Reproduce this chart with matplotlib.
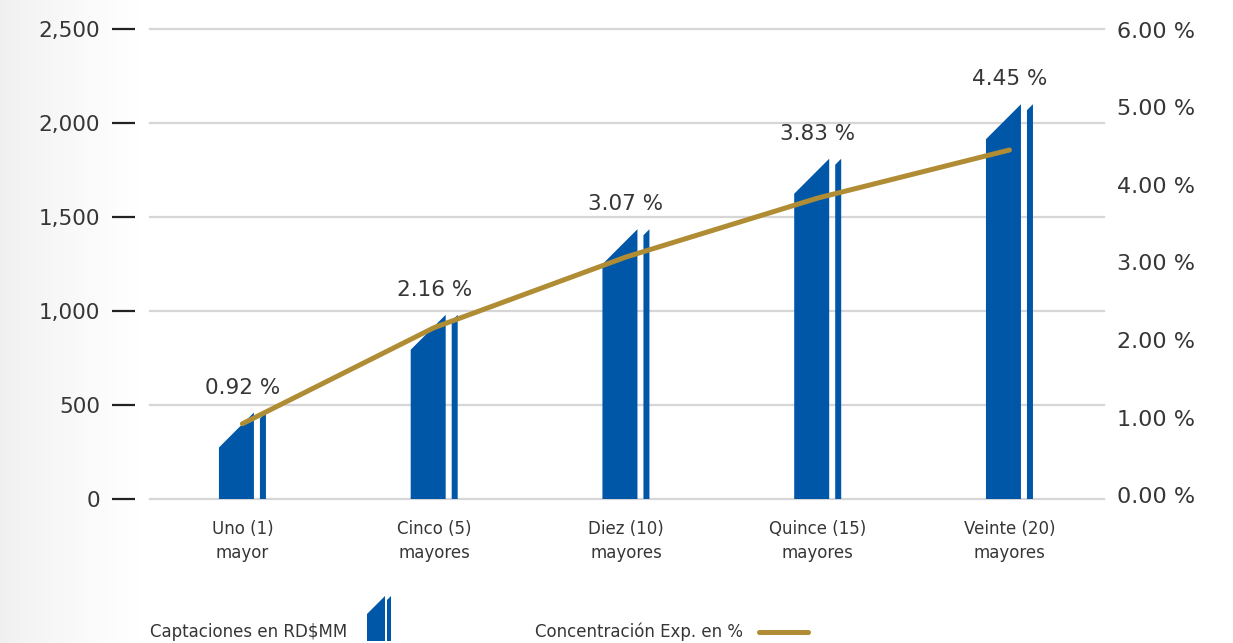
import numpy as np
import matplotlib.pyplot as plt
from matplotlib.patches import Polygon
from matplotlib.lines import Line2D
from matplotlib.colors import LinearSegmentedColormap

# Datos
categorias = ["Uno (1)\nmayor", "Cinco (5)\nmayores", "Diez (10)\nmayores",
              "Quince (15)\nmayores", "Veinte (20)\nmayores"]
captaciones = [460, 980, 1435, 1810, 2100]        # RD$MM
concentracion = [0.92, 2.16, 3.07, 3.83, 4.45]    # %
ticks_izq = [0, 500, 1000, 1500, 2000, 2500]
ticks_der = [0, 1, 2, 3, 4, 5, 6]

AZUL = "#0057A8"
ORO = "#B08D34"
GRIS_TXT = "#363636"
GRIS_GRID = "#d6d6d6"

plt.rcParams['font.family'] = 'DejaVu Sans'

W, H, DPI = 1233, 643, 100
fig = plt.figure(figsize=(W / DPI, H / DPI), dpi=DPI)

# fondo con degradado gris a la izquierda
bg = fig.add_axes([0, 0, 1, 1], zorder=-10)
grad = np.clip(np.arange(W) / 140.0, 0, 1)[None, :] ** 0.8
cmap = LinearSegmentedColormap.from_list('bg', ['#f0f0f0', '#ffffff'])
bg.imshow(grad, aspect='auto', cmap=cmap, extent=[0, 1, 0, 1], vmin=0, vmax=1)
bg.axis('off')

# caja del grafico (pixeles)
L, R, T, B = 150, 1104, 29, 499
ax = fig.add_axes([L / W, 1 - B / H, (R - L) / W, (B - T) / H])
x = np.arange(len(categorias))
xmin, xmax = -0.482, 4.493
ax.set_xlim(xmin, xmax)
ax.set_ylim(0, 2500)

sx = (xmax - xmin) / (R - L)      # unidades x por pixel
sy = 2500 / (B - T)               # unidades y por pixel

# lineas de cuadricula
for t in ticks_izq:
    ax.axhline(t, color=GRIS_GRID, lw=1.6, clip_on=False, zorder=0)


def barra(xc, v):
    """Barra con esquina cortada a 45 grados + franja fina"""
    for a, b in [(-23.5, 11.5), (17.5, 23.5)]:
        l, r = xc + a * sx, xc + b * sx
        pts = [(l, 0), (r, 0), (r, v), (l, v - (b - a) * sy)]
        ax.add_patch(Polygon(pts, closed=True, facecolor=AZUL,
                             edgecolor='none', zorder=2))


for xc, v, p in zip(x, captaciones, concentracion):
    barra(xc, v)
    ax.annotate(f"{p:.2f} %", (xc, v), xytext=(0, 18), textcoords='offset points',
                ha='center', va='center', fontsize=15.5, color=GRIS_TXT)

for s in ax.spines.values():
    s.set_visible(False)
ax.spines['left'].set_position(('outward', 10.8))
ax.set_yticks(ticks_izq)
ax.set_yticklabels([f"{t:,}" for t in ticks_izq])
ax.tick_params(axis='y', length=16.5, width=1.6, color='#222222', pad=8.5,
               labelsize=15.5, labelcolor=GRIS_TXT)
ax.set_xticks(x)
ax.set_xticklabels(categorias, linespacing=1.45)
ax.tick_params(axis='x', length=0, pad=15, labelsize=12, labelcolor=GRIS_TXT)

# eje derecho: concentracion
ax2 = ax.twinx()
ax2.set_ylim(-0.05, 6.01)
ax2.plot(x, concentracion, color=ORO, lw=3.6, solid_capstyle='round', zorder=3)
ax2.set_yticks(ticks_der)
ax2.set_yticklabels([f"{t:.2f} %" for t in ticks_der])
ax2.tick_params(axis='y', length=0, pad=9.4, labelsize=16, labelcolor=GRIS_TXT)
for s in ax2.spines.values():
    s.set_visible(False)


# leyenda manual (coordenadas en pixeles de la figura)
def fpx(xp, yp):
    return (xp / W, 1 - yp / H)


fig.text(*fpx(150, 632), "Captaciones en RD$MM", ha='left', va='center',
         fontsize=12, color=GRIS_TXT)
for a, b in [(367, 385), (387, 391)]:
    pts = [fpx(a, 641), fpx(b, 641), fpx(b, 596), fpx(a, 596 + (b - a))]
    fig.add_artist(Polygon(pts, closed=True, transform=fig.transFigure,
                           facecolor=AZUL, edgecolor='none'))

fig.text(*fpx(535, 632), "Concentración Exp. en %", ha='left', va='center',
         fontsize=12, color=GRIS_TXT)
fig.add_artist(Line2D([759 / W, 808 / W], [1 - 632 / H] * 2, transform=fig.transFigure,
                      color=ORO, lw=3.6, solid_capstyle='round'))

fig.savefig('out.png', dpi=DPI)
